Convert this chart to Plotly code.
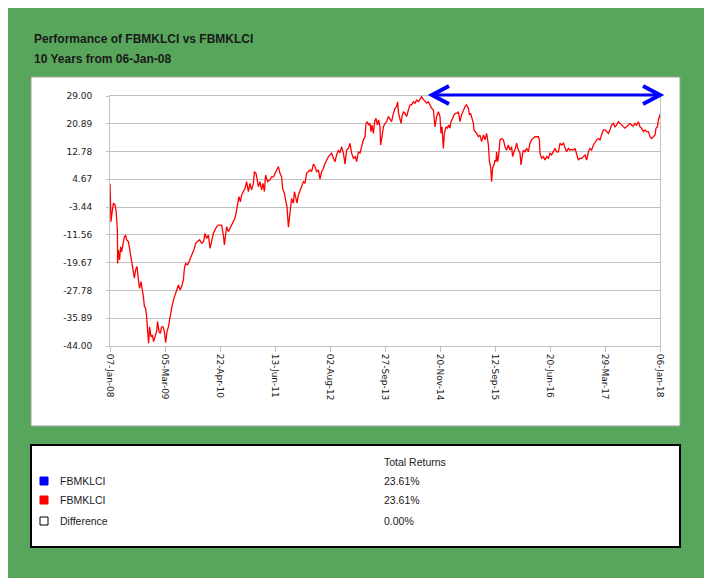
import plotly.graph_objects as go

# --- Дані: накопичена дохідність FBMKLCI (%), по торгових точках ---
POINT_IDX = [
    0, 5, 12, 17, 25, 30, 33, 37, 38, 42, 48, 53, 58, 67, 72, 78, 83, 92, 100, 108,
    117, 122, 128, 135, 142, 148, 155, 162, 167, 172, 178, 183, 188, 193, 198, 205, 212, 218, 225, 233,
    238, 245, 252, 258, 265, 272, 278, 285, 292, 300, 308, 317, 325, 333, 342, 350, 358, 367, 372, 378,
    388, 395, 405, 412, 422, 428, 438, 448, 458, 468, 475, 483, 492, 500, 508, 517, 525, 533, 542, 550,
    558, 567, 572, 583, 592, 600, 608, 617, 625, 633, 638, 645, 652, 658, 667, 675, 683, 692, 700, 708,
    717, 722, 730, 737, 742, 750, 758, 765, 772, 778, 788, 800, 808, 817, 825, 833, 842, 850, 858, 863,
    872, 878, 885, 892, 897, 902, 908, 917, 922, 928, 935, 942, 950, 958, 967, 975, 983, 992, 1000, 1008,
    1017, 1025, 1033, 1042, 1050, 1058, 1067, 1075, 1083, 1092, 1100, 1108, 1117, 1125, 1133, 1142, 1150, 1158, 1167, 1175,
    1183, 1192, 1200, 1208, 1217, 1227, 1233, 1242, 1250, 1258, 1267, 1275, 1280, 1287, 1293, 1300, 1305, 1310, 1317, 1323,
    1330, 1337, 1343, 1350, 1353, 1360, 1367, 1375, 1383, 1392, 1400, 1408, 1417, 1425, 1433, 1438, 1443, 1450, 1455, 1460,
    1467, 1475, 1483, 1492, 1500, 1508, 1517, 1525, 1533, 1542, 1550, 1558, 1567, 1575, 1583, 1592, 1600, 1608, 1617, 1625,
    1633, 1642, 1650, 1655, 1660, 1667, 1672, 1680, 1687, 1693, 1700, 1705, 1713, 1720, 1727, 1733, 1742, 1747, 1750, 1758,
    1767, 1775, 1783, 1792, 1797, 1803, 1810, 1817, 1820, 1827, 1833, 1842, 1850, 1858, 1867, 1875, 1883, 1892, 1897, 1903,
    1908, 1913, 1920, 1925, 1930, 1933, 1938, 1943, 1950, 1958, 1967, 1975, 1983, 1992, 2000, 2008, 2013, 2020, 2027, 2033,
    2042, 2050, 2055, 2062, 2067, 2075, 2083, 2092, 2100, 2108, 2117, 2125, 2133, 2142, 2147, 2150, 2158, 2167, 2175, 2183,
    2192, 2200, 2208, 2217, 2225, 2233, 2242, 2250, 2258, 2267, 2275, 2283, 2292, 2300, 2308, 2317, 2325, 2333, 2342, 2350,
    2358, 2367, 2375, 2383, 2392, 2400, 2408, 2417, 2425, 2433, 2442, 2450, 2458, 2467, 2475, 2483, 2492, 2500, 2508, 2517,
    2525, 2533, 2542, 2550, 2558, 2567, 2575, 2583, 2592, 2600, 2608, 2617, 2625, 2633, 2642, 2650, 2658, 2667, 2675, 2683,
    2692, 2700, 2708, 2717, 2725, 2730, 2737, 2742, 2747, 2750,
]
RETURNS = [
    3.3, -7.7, -4.3, -2.3, -2.8, -4.3, -6.7, -10.1, -19.9, -16.0, -18.9, -15.0, -16.5, -13.5, -12.1, -11.6, -13.0, -13.5, -16.5, -18.9,
    -22.3, -24.2, -21.8, -20.8, -24.7, -27.2, -25.2, -27.6, -29.6, -32.5, -33.0, -35.4, -38.4, -43.2, -38.4, -41.3, -40.8, -42.7, -41.3, -39.8,
    -36.9, -39.8, -40.3, -38.4, -38.4, -39.8, -43.0, -39.8, -38.4, -35.4, -33.0, -30.6, -29.1, -27.2, -26.2, -27.6, -26.7, -24.7, -21.3, -19.9,
    -20.3, -19.4, -17.9, -17.4, -15.5, -14.0, -13.5, -13.0, -14.0, -13.5, -11.1, -12.6, -11.6, -15.5, -13.5, -11.1, -10.1, -9.2, -8.7, -8.7,
    -8.7, -11.6, -14.5, -9.2, -10.6, -9.6, -8.7, -7.7, -6.7, -4.3, -2.3, -0.4, -1.9, 0.1, 1.1, 2.0, 4.0, 1.1, 3.5, 1.6,
    3.5, 6.9, 6.4, 4.0, 2.5, 4.0, 1.6, 3.5, 1.1, 5.9, 4.0, 4.5, 5.4, 5.4, 6.4, 6.9, 8.4, 6.4, 5.4, 2.0,
    0.6, -1.4, -3.3, -9.3, -6.2, -3.3, -0.9, -2.3, 1.1, -0.4, -2.3, 0.1, 1.6, 2.5, 4.0, 3.5, 6.4, 6.9, 7.4, 6.9,
    9.1, 8.4, 6.9, 7.4, 4.7, 6.9, 7.9, 9.3, 10.3, 11.3, 11.8, 12.3, 10.8, 9.8, 11.8, 13.2, 12.4, 14.2, 12.3, 9.1,
    13.2, 13.7, 15.2, 12.3, 10.8, 11.3, 9.8, 12.7, 12.3, 14.2, 16.2, 17.1, 21.0, 21.5, 20.5, 21.0, 18.6, 20.5, 18.1, 21.5,
    22.5, 20.5, 22.0, 20.0, 14.7, 17.1, 20.0, 21.0, 21.5, 23.0, 22.0, 21.5, 23.9, 25.4, 25.9, 27.3, 23.9, 22.5, 21.0, 23.0,
    24.4, 23.9, 23.0, 24.9, 26.4, 26.4, 27.3, 26.9, 27.8, 27.3, 28.3, 28.8, 28.0, 27.3, 26.9, 27.3, 26.4, 25.4, 24.9, 20.0,
    23.0, 24.4, 23.0, 18.1, 20.0, 13.7, 18.1, 20.0, 19.6, 20.5, 19.6, 21.5, 22.5, 23.5, 23.9, 23.9, 24.4, 21.5, 21.5, 23.5,
    24.9, 25.9, 26.4, 25.4, 23.5, 23.9, 22.5, 21.0, 19.1, 18.6, 18.1, 17.1, 17.6, 15.7, 17.6, 16.2, 18.1, 14.7, 9.8, 8.4,
    4.0, 7.9, 8.9, 10.3, 9.8, 12.7, 9.8, 11.3, 16.2, 16.6, 16.2, 14.2, 13.2, 14.7, 13.2, 14.2, 11.3, 12.7, 13.7, 15.2,
    13.2, 12.3, 8.9, 11.8, 13.2, 12.7, 13.7, 12.7, 15.2, 16.2, 16.6, 17.1, 17.1, 17.1, 16.2, 12.3, 10.8, 11.3, 10.3, 11.3,
    10.8, 12.3, 11.8, 12.7, 13.7, 12.7, 12.7, 15.2, 14.7, 15.2, 13.7, 12.7, 13.7, 13.2, 13.4, 13.2, 13.7, 12.3, 10.3, 10.8,
    10.8, 11.3, 11.8, 10.3, 12.7, 13.7, 13.2, 14.7, 15.7, 16.2, 16.6, 16.2, 17.6, 19.1, 19.1, 18.6, 18.1, 19.1, 20.5, 21.0,
    20.0, 20.5, 21.5, 21.0, 20.5, 20.0, 19.6, 20.0, 20.5, 21.0, 20.5, 20.2, 21.0, 20.5, 21.5, 20.0, 19.6, 18.6, 19.1, 18.6,
    18.6, 17.1, 16.6, 17.1, 17.6, 19.6, 20.0, 22.0, 23.5, 23.61,
]

TICK_LABELS = ['07-Jan-08', '05-Mar-09', '22-Apr-10', '13-Jun-11', '02-Aug-12', '27-Sep-13',
               '20-Nov-14', '12-Sep-15', '20-Jun-16', '29-Mar-17', '06-Jan-18']
Y_TICKS = [29.00, 20.89, 12.78, 4.67, -3.44, -11.56, -19.67, -27.78, -35.89, -44.00]

# Таблиця підсумків
TABLE_NAMES = ['FBMKLCI', 'FBMKLCI', 'Difference']
TABLE_VALUES = ['23.61%', '23.61%', '0.00%']
TABLE_COLORS = ['#0000ff', '#ff0000', '#ffffff']

# Стрілка-позначка (від точки до кінця періоду)
ARROW_FROM_IDX = 1610
ARROW_LEVEL = 29.3

N_LAST = POINT_IDX[-1]
Y_MIN, Y_MAX = -44.0, 29.0

# --- Розмітка у пікселях сторінки (body має відступ 8px) ---
OFF = 8
W, H = 712 - OFF, 585 - OFF
PL, PR, PT, PB = 110, 660, 96, 346  # межі області графіка на сторінці


def px(x):
    return (x - PL) / (PR - PL)


def py(y):
    return (PB - y) / (PB - PT)


def dx(i):
    return i / N_LAST


def dy(v):
    return (v - Y_MIN) / (Y_MAX - Y_MIN)


GREEN = '#58a65c'
TXT = '#1a1a1a'
GRID = '#c0c0c0'

fig = go.Figure()
fig.add_trace(go.Scatter(
    x=POINT_IDX, y=RETURNS, mode='lines',
    line=dict(color='#ff0000', width=1.3),
    showlegend=False, hoverinfo='skip',
))

shapes = [
    # зелений фон
    dict(type='rect', xref='paper', yref='paper', x0=px(5), x1=px(708), y0=py(578), y1=py(6),
         fillcolor=GREEN, line=dict(width=0), layer='below'),
    # біла панель графіка
    dict(type='rect', xref='paper', yref='paper', x0=px(31), x1=px(680), y0=py(426), y1=py(77),
         fillcolor='white', line=dict(color='#a0a0a0', width=1), layer='below'),
    # таблиця
    dict(type='rect', xref='paper', yref='paper', x0=px(31), x1=px(680), y0=py(547), y1=py(445),
         fillcolor='white', line=dict(color='black', width=2), layer='below'),
]

# стрілка у координатах даних -> paper
ax0, ax1, ay = dx(ARROW_FROM_IDX), dx(N_LAST), dy(ARROW_LEVEL)
hx, hy = 17 / (PR - PL), 9 / (PB - PT)
shapes.append(dict(type='line', xref='paper', yref='paper', x0=ax0, x1=ax1, y0=ay, y1=ay,
                   line=dict(color='#0000ff', width=3)))
for tip, sgn in [(ax0, 1), (ax1, -1)]:
    shapes.append(dict(type='path', xref='paper', yref='paper',
                       path=f'M {tip + sgn * hx},{ay + hy} L {tip},{ay} L {tip + sgn * hx},{ay - hy}',
                       line=dict(color='#0000ff', width=4)))

annotations = [
    dict(text='<b>Performance of FBMKLCI vs FBMKLCI</b>', x=px(32), y=py(38.5)),
    dict(text='<b>10 Years from 06-Jan-08</b>', x=px(32), y=py(58.5)),
]
for a in annotations:
    a.update(xref='paper', yref='paper', xanchor='left', yanchor='middle', showarrow=False,
             font=dict(family='Liberation Sans, Arial', size=12, color=TXT))

tfont = dict(family='Liberation Sans, Arial', size=10.5, color=TXT)
annotations.append(dict(text='Total Returns', x=px(382), y=py(462), xref='paper', yref='paper',
                        xanchor='left', yanchor='middle', showarrow=False, font=tfont))
for k, (name, val, col) in enumerate(zip(TABLE_NAMES, TABLE_VALUES, TABLE_COLORS)):
    yc = [481, 500, 521][k]
    shapes.append(dict(type='rect', xref='paper', yref='paper', x0=px(40), x1=px(48),
                       y0=py(yc + 4), y1=py(yc - 4), fillcolor=col,
                       line=dict(color='black' if col == '#ffffff' else col, width=1)))
    annotations.append(dict(text=name, x=px(58), y=py(yc), xref='paper', yref='paper',
                            xanchor='left', yanchor='middle', showarrow=False, font=tfont))
    annotations.append(dict(text=val, x=px(382), y=py(yc), xref='paper', yref='paper',
                            xanchor='left', yanchor='middle', showarrow=False, font=tfont))

tick_font = dict(family='DejaVu Sans', size=9, color=TXT)
fig.update_layout(
    width=W, height=H,
    margin=dict(l=PL - OFF, r=W - (PR - OFF), t=PT - OFF, b=H - (PB - OFF), pad=0),
    paper_bgcolor='white', plot_bgcolor='white',
    shapes=shapes, annotations=annotations,
    xaxis=dict(
        range=[0, N_LAST], tickmode='array',
        tickvals=[i * N_LAST / (len(TICK_LABELS) - 1) for i in range(len(TICK_LABELS))],
        ticktext=TICK_LABELS, tickangle=90, tickfont=tick_font,
        showgrid=False, zeroline=False, showline=True, linecolor=GRID, linewidth=1, mirror=True,
        ticks='outside', ticklen=5, tickcolor=GRID,
    ),
    yaxis=dict(
        range=[Y_MIN, Y_MAX], tickmode='array', tickvals=Y_TICKS,
        ticktext=[f'{v:.2f}' for v in Y_TICKS], tickfont=tick_font,
        showgrid=True, gridcolor=GRID, gridwidth=1, zeroline=False,
        showline=True, linecolor=GRID, linewidth=1, mirror=True,
        ticks='outside', ticklen=3, tickcolor=GRID, ticklabelstandoff=12,
    ),
)

fig.write_html("out.html")
